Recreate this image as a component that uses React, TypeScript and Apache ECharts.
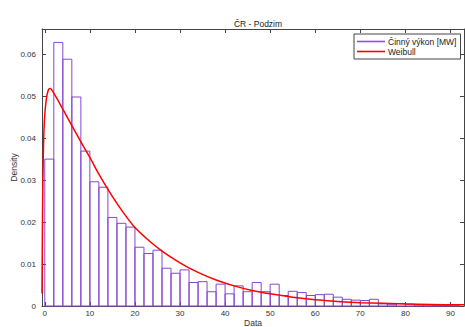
import React, { useEffect, useRef } from "react";
import * as echarts from "echarts";

const binStarts = [0,2,4,6,8,10,12,14,16,18,20,22,24,26,28,30,32,34,36,38,40,42,44,46,48,50,52,54,56,58,60,62,64,66,68,70,72,74,76,78,80,82,84,86,88,90];
const binDensity = [0.035,0.0628,0.0588,0.0498,0.0369,0.0296,0.0283,0.0211,0.0197,0.0188,0.014,0.0125,0.0133,0.009,0.0078,0.0086,0.0056,0.0058,0.0034,0.0052,0.0029,0.0048,0.0034,0.0056,0.0034,0.0052,0.0025,0.0035,0.0032,0.0025,0.0027,0.0028,0.0021,0.0016,0.0014,0.0013,0.0016,0.0005,0.0003,0.0006,0.0004,0.0002,0.0002,0.0001,0.0001,0.0002];
const binWidth = 2;

const weibullX = [-0.62,-0.5,-0.35,-0.1,0.3,0.8,1.2,2,4,6,8,10,12,14,17,20,23.4,26,30,34,38,42,46,50,55,60,65,70,80,90,93];
const weibullY = [0.003,0.022,0.035,0.044,0.049,0.0515,0.0518,0.0507,0.0469,0.043,0.0391,0.0354,0.0314,0.0278,0.0229,0.0187,0.0153,0.0131,0.0103,0.008,0.0062,0.0048,0.0037,0.0029,0.0021,0.0015,0.0011,0.0008,0.0005,0.0003,0.0003];

const xTicks = [0,10,20,30,40,50,60,70,80,90];
const yTicks = [0,0.01,0.02,0.03,0.04,0.05,0.06];

const titleText = "ČR - Podzim";
const histName = "Činný výkon [MW]";
const fitName = "Weibull";

export default function App() {
  const ref = useRef<HTMLDivElement>(null);
  useEffect(() => {
    if (!ref.current) return;
    const chart = echarts.init(ref.current, null, { renderer: "svg" });
    const axisColor = "#444";
    const labelColor = "#333";
    const font = "Liberation Sans";
    const xMin = -0.62, xMax = 93, yMin = 0, yMax = 0.066;
    const histData = binStarts.map((s, i) => [s, s + binWidth, binDensity[i]]);
    const fitData = weibullX.map((x, i) => [x, weibullY[i]]);
    const baseX = {
      type: "value", min: xMin, max: xMax,
      splitLine: { show: false },
      axisLine: { show: true, onZero: false, lineStyle: { color: axisColor, width: 1 } },
      axisTick: { show: true, inside: true, length: 4, customValues: xTicks, lineStyle: { color: axisColor } },
    };
    const baseY = {
      type: "value", min: yMin, max: yMax,
      splitLine: { show: false },
      axisLine: { show: true, onZero: false, lineStyle: { color: axisColor, width: 1 } },
      axisTick: { show: true, inside: true, length: 4, customValues: yTicks, lineStyle: { color: axisColor } },
    };
    chart.setOption({
      animation: false,
      backgroundColor: "#fff",
      textStyle: { fontFamily: font },
      title: {
        text: titleText, left: 253, top: 14, textAlign: "center",
        textStyle: { fontSize: 8.5, fontWeight: "normal", color: "#222", fontFamily: font },
      },
      grid: { left: 42, top: 29, width: 422, height: 277, containLabel: false, outerBoundsMode: "none" },
      legend: {
        left: 354, top: 34, orient: "vertical",
        data: [histName, fitName],
        icon: "rect",
        backgroundColor: "#fff", borderColor: axisColor, borderWidth: 1,
        padding: [3, 4, 3, 3], itemGap: 1, itemWidth: 28, itemHeight: 1.6,
        textStyle: { fontSize: 8.5, color: "#222", fontFamily: font, padding: [0, 0, 0, -2] },
      },
      xAxis: [
        {
          ...baseX, position: "bottom",
          name: "Data", nameLocation: "middle", nameGap: 12, nameMoveOverlap: false,
          nameTextStyle: { fontSize: 8.5, color: labelColor, fontFamily: font },
          axisLabel: { show: true, customValues: xTicks, fontSize: 8, color: labelColor, margin: 3, fontFamily: font },
        },
        { ...baseX, position: "top", axisLabel: { show: false } },
      ],
      yAxis: [
        {
          ...baseY, position: "left",
          name: "Density", nameLocation: "middle", nameGap: 24, nameMoveOverlap: false,
          nameTextStyle: { fontSize: 8.5, color: labelColor, fontFamily: font },
          axisLabel: { show: true, customValues: yTicks, fontSize: 8, color: labelColor, margin: 6, fontFamily: font },
        },
        { ...baseY, position: "right", axisLabel: { show: false } },
      ],
      series: [
        {
          type: "custom", name: "hist", xAxisIndex: 0, yAxisIndex: 0,
          data: histData,
          renderItem: (params: any, api: any) => {
            const p0 = api.coord([api.value(0), api.value(2)]);
            const p1 = api.coord([api.value(1), 0]);
            return {
              type: "rect",
              shape: { x: p0[0], y: p0[1], width: p1[0] - p0[0], height: p1[1] - p0[1] },
              style: { fill: "rgba(255,255,255,0)", stroke: "#8447d4", lineWidth: 1 },
            };
          },
          z: 2,
        },
        {
          type: "line", name: histName, data: [], color: "#8a55dc",
          lineStyle: { color: "#8a55dc", width: 1 }, symbol: "none",
        },
        {
          type: "line", name: fitName, data: fitData, color: "#ff0000",
          smooth: 0.25, symbol: "none", showSymbol: false,
          lineStyle: { color: "#ff0000", width: 1.5 }, z: 3,
        },
      ],
    });
    return () => chart.dispose();
  }, []);
  return (
    <div
      ref={ref}
      style={{ position: "fixed", left: 0, top: 0, width: 465, height: 327 }}
    />
  );
}
